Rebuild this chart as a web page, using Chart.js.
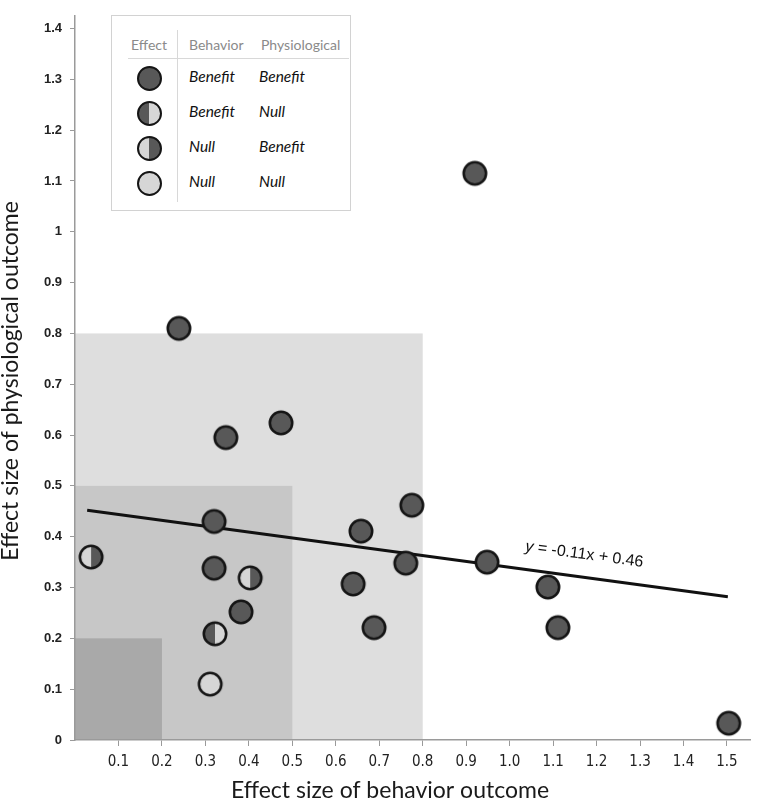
<!DOCTYPE html>
<html>
<head>
<meta charset="utf-8">
<script src="https://cdn.jsdelivr.net/npm/chart.js@4.4.1/dist/chart.umd.min.js"></script>
<style>
  body { margin: 0; background: #fff; }
  #wrap { position: relative; width: 763px; height: 801px; }
  #key { position: absolute; left: 111px; top: 15px; width: 238px; height: 194px;
         border: 1px solid #d2d2d2; background: #fff; font-family: Lato, "Open Sans", sans-serif; font-size: 14px; }
  #key .hd { position: absolute; top: 20px; color: #8a8a8a; }
  #key .cell { position: absolute; font-style: italic; font-size: 15.5px; color: #111; }
  #key .dot { position: absolute; width: 21px; height: 21px; border: 2px solid #151515; border-radius: 50%; }
  #key .vline { position: absolute; left: 65px; top: 14px; width: 1px; height: 172px; background: #d8d8d8; }
  #key .hline { position: absolute; left: 16px; top: 42px; width: 221px; height: 1px; background: #d8d8d8; }
</style>
</head>
<body>
<div id="wrap">
  <canvas id="chart" width="763" height="801"></canvas>
  <div id="key">
    <div class="vline"></div>
    <div class="hline"></div>
    <span class="hd" style="left:19px">Effect</span>
    <span class="hd" style="left:77px">Behavior</span>
    <span class="hd" style="left:149px">Physiological</span>
  </div>
</div>
<script>
// legend categories
var behavior = ['Benefit', 'Benefit', 'Null', 'Null'];
var physiological = ['Benefit', 'Null', 'Benefit', 'Null'];

// benefit on both outcomes
var bothX = [0.920, 0.239, 0.347, 0.474, 0.320, 0.658, 0.775, 0.320, 0.382, 0.640, 0.761, 0.688, 0.948, 1.088, 1.111, 1.504];
var bothY = [1.115, 0.810, 0.595, 0.624, 0.430, 0.411, 0.462, 0.338, 0.252, 0.307, 0.348, 0.221, 0.350, 0.301, 0.221, 0.033];
// benefit on behavior, null physiological
var behavOnlyX = [0.322];
var behavOnlyY = [0.209];
// null behavior, benefit physiological
var physOnlyX = [0.037, 0.403];
var physOnlyY = [0.360, 0.319];
// null on both
var neitherX = [0.311];
var neitherY = [0.110];

// fitted line end points and its label
var fitX = [0.028, 1.502];
var fitY = [0.452, 0.282];
var fitLabel = 'y = -0.11x + 0.46';

// shaded effect-size zones (upper bound on both axes)
var zones = [0.8, 0.5, 0.2];
var zoneColors = ['#dedede', '#c7c7c7', '#a9a9a9'];

var xTicks = [0.1, 0.2, 0.3, 0.4, 0.5, 0.6, 0.7, 0.8, 0.9, 1.0, 1.1, 1.2, 1.3, 1.4, 1.5];
var yTicks = [0, 0.1, 0.2, 0.3, 0.4, 0.5, 0.6, 0.7, 0.8, 0.9, 1, 1.1, 1.2, 1.3, 1.4];

var DARK = '#585858', LIGHT = '#d6d6d6';
var fills = [[DARK, DARK], [DARK, LIGHT], [LIGHT, DARK], [LIGHT, LIGHT]];

function dot(left, right) {
  var c = document.createElement('canvas');
  c.width = 28; c.height = 28;
  var g = c.getContext('2d');
  g.fillStyle = left;
  g.beginPath(); g.arc(14, 14, 11.2, Math.PI / 2, Math.PI * 1.5); g.fill();
  g.fillStyle = right;
  g.beginPath(); g.arc(14, 14, 11.2, -Math.PI / 2, Math.PI / 2); g.fill();
  g.lineWidth = 2.6; g.strokeStyle = '#151515';
  g.beginPath(); g.arc(14, 14, 11.2, 0, Math.PI * 2); g.stroke();
  return c;
}

function pts(xs, ys) {
  return xs.map(function (x, i) { return { x: x, y: ys[i] }; });
}

// build the legend table
var key = document.getElementById('key');
behavior.forEach(function (b, i) {
  var cy = 62 + i * 35;
  var d = document.createElement('div');
  d.className = 'dot';
  d.style.left = (37 - 12.5) + 'px';
  d.style.top = (cy - 12.5) + 'px';
  d.style.background = 'linear-gradient(to right,' + fills[i][0] + ' 50%,' + fills[i][1] + ' 50%)';
  key.appendChild(d);
  [b, physiological[i]].forEach(function (t, j) {
    var s = document.createElement('span');
    s.className = 'cell';
    s.textContent = t;
    s.style.left = (j ? 147 : 77) + 'px';
    s.style.top = (cy - 11) + 'px';
    key.appendChild(s);
  });
});

var zonePlugin = {
  id: 'zones',
  beforeDraw: function (chart) {
    var ctx = chart.ctx, x = chart.scales.x, y = chart.scales.y;
    zones.forEach(function (z, i) {
      var x0 = x.getPixelForValue(0), x1 = x.getPixelForValue(z);
      var y0 = y.getPixelForValue(0), y1 = y.getPixelForValue(z);
      ctx.fillStyle = zoneColors[i];
      ctx.fillRect(x0, y1, x1 - x0, y0 - y1);
    });
  }
};

var textPlugin = {
  id: 'texts',
  afterDraw: function (chart) {
    var ctx = chart.ctx, x = chart.scales.x, y = chart.scales.y;
    // fit equation, along the line
    var ax = x.getPixelForValue(fitX[0]), ay = y.getPixelForValue(fitY[0]);
    var bx = x.getPixelForValue(fitX[1]), by = y.getPixelForValue(fitY[1]);
    var ang = Math.atan2(by - ay, bx - ax);
    ctx.save();
    ctx.translate(x.getPixelForValue(1.035), y.getPixelForValue(0.372));
    ctx.rotate(ang);
    ctx.fillStyle = '#111';
    ctx.textBaseline = 'alphabetic';
    ctx.font = 'italic 16px "Liberation Sans", Arial, sans-serif';
    ctx.fillText(fitLabel.slice(0, 1), 0, 0);
    var w = ctx.measureText(fitLabel.slice(0, 1)).width;
    ctx.font = '16px "Liberation Sans", Arial, sans-serif';
    ctx.fillText(fitLabel.slice(1), w, 0);
    ctx.restore();

    // axis titles
    ctx.save();
    ctx.fillStyle = '#1a1a1a';
    ctx.font = '23px Lato, "Open Sans", sans-serif';
    ctx.textAlign = 'center';
    ctx.textBaseline = 'alphabetic';
    ctx.fillText('Effect size of behavior outcome', 390, 798);
    ctx.translate(18, 381);
    ctx.rotate(-Math.PI / 2);
    ctx.fillText('Effect size of physiological outcome', 0, 0);
    ctx.restore();
  }
};

var ctx = document.getElementById('chart').getContext('2d');
var myChart = new Chart(ctx, {
  type: 'scatter',
  data: {
    datasets: [
      { label: 'Benefit / Benefit', data: pts(bothX, bothY), pointStyle: dot(DARK, DARK), pointRadius: 12, order: 1 },
      { label: 'Benefit / Null', data: pts(behavOnlyX, behavOnlyY), pointStyle: dot(DARK, LIGHT), pointRadius: 12, order: 1 },
      { label: 'Null / Benefit', data: pts(physOnlyX, physOnlyY), pointStyle: dot(LIGHT, DARK), pointRadius: 12, order: 1 },
      { label: 'Null / Null', data: pts(neitherX, neitherY), pointStyle: dot(LIGHT, LIGHT), pointRadius: 12, order: 1 },
      { type: 'line', label: 'fit', data: pts(fitX, fitY), borderColor: '#111', borderWidth: 3,
        pointRadius: 0, fill: false, order: 2 }
    ]
  },
  options: {
    responsive: false,
    animation: false,
    layout: { padding: { top: 4, right: 10, left: 0, bottom: 0 } },
    plugins: { legend: { display: false }, tooltip: { enabled: false } },
    scales: {
      x: {
        type: 'linear', min: 0, max: 1.553,
        afterBuildTicks: function (s) { s.ticks = xTicks.map(function (v) { return { value: v }; }); },
        afterFit: function (s) { s.height = 61; },
        grid: { drawOnChartArea: false, drawTicks: true, tickLength: 6, color: '#9a9a9a' },
        border: { color: '#9a9a9a', width: 1.5 },
        ticks: {
          padding: 7, color: '#222', maxRotation: 0,
          font: { family: '"Liberation Sans Narrow", "DejaVu Sans Condensed", sans-serif', size: 15 },
          callback: function (v) { return v.toFixed(1); }
        }
      },
      y: {
        type: 'linear', min: 0, max: 1.425,
        afterBuildTicks: function (s) { s.ticks = yTicks.map(function (v) { return { value: v }; }); },
        afterFit: function (s) { s.width = 75; },
        grid: { drawOnChartArea: false, drawTicks: true, tickLength: 5, color: '#9a9a9a' },
        border: { color: '#9a9a9a', width: 1.5 },
        ticks: {
          padding: 8, color: '#222',
          font: { family: '"Liberation Sans", Arial, sans-serif', size: 13, weight: 'bold' },
          callback: function (v) { return String(Math.round(v * 10) / 10); }
        }
      }
    }
  },
  plugins: [zonePlugin, textPlugin]
});
</script>
</body>
</html>
